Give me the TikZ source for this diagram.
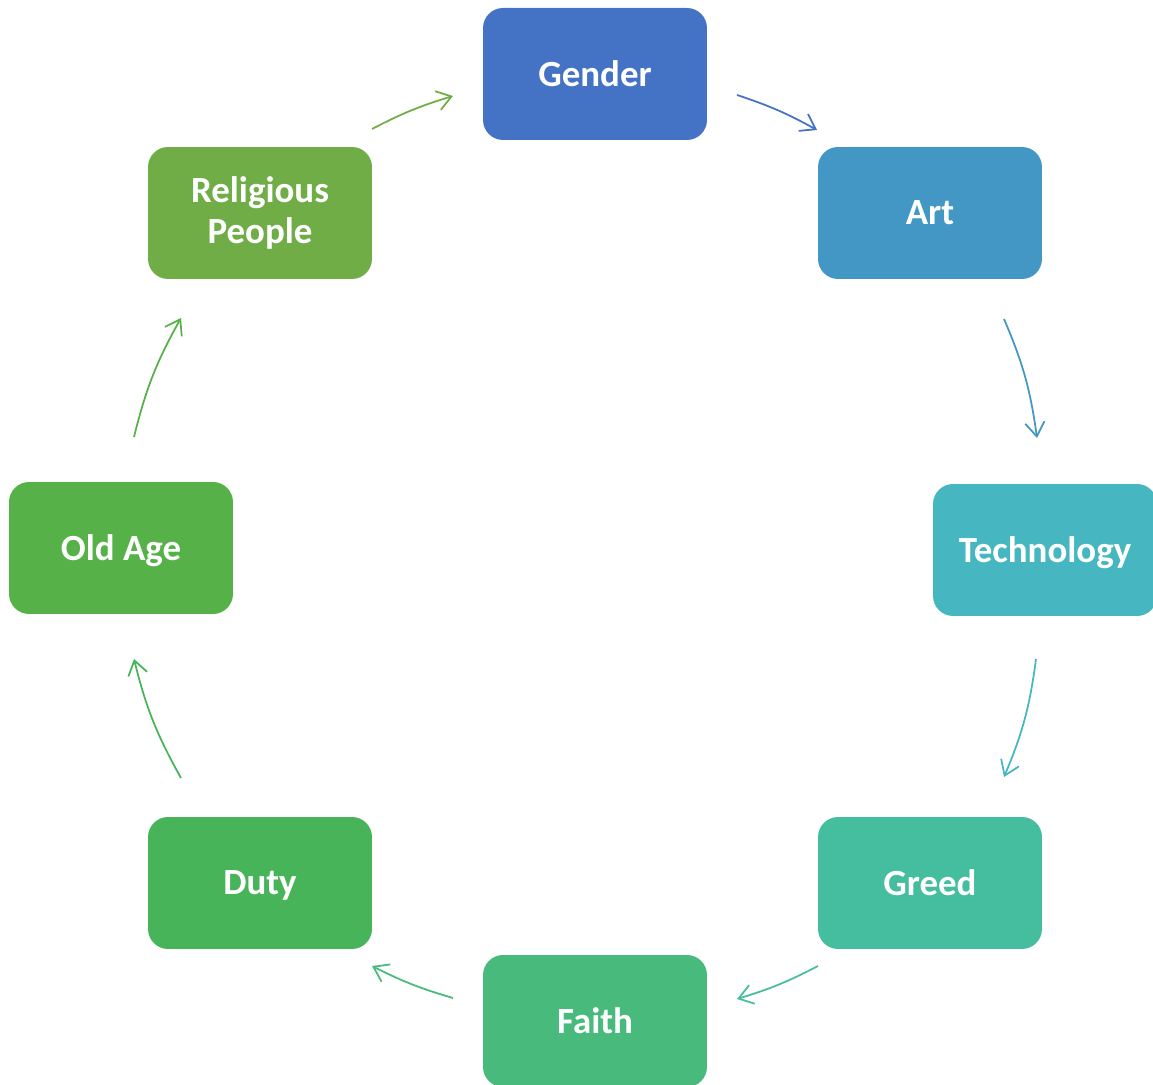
\documentclass[tikz,border=0pt]{standalone}
\usepackage{fontspec}
\setmainfont{Carlito}
\usepackage{tikz}
\usetikzlibrary{
  arrows.meta, % for the open arrow heads
}

\definecolor{gendercol}{HTML}{4472C4}
\definecolor{artcol}{HTML}{4397C4}
\definecolor{techcol}{HTML}{46B7C1}
\definecolor{greedcol}{HTML}{45BD9F}
\definecolor{faithcol}{HTML}{47BA7C}
\definecolor{dutycol}{HTML}{48B45A}
\definecolor{oldagecol}{HTML}{56B149}
\definecolor{religcol}{HTML}{70AD47}

\tikzset{
  cyclebox/.style={fill=#1, rounded corners=0.4cm, minimum width=4.48cm,
    minimum height=2.64cm, text=white, align=center,
    font=\fontsize{21}{23}\selectfont\bfseries},
  cyclearrow/.style={draw=#1, line width=1pt,
    -{Straight Barb[length=8pt, width=11pt]}},
}

\begin{document}
\begin{tikzpicture}[x=0.02cm, y=0.02cm]
              \useasboundingbox (0,0) rectangle (1153,1085);
              \node [cyclebox=gendercol] (gender) at (595,1011) {Gender};
              \node [cyclebox=artcol] (art) at (930,872) {Art};
              \node [cyclebox=techcol, text depth=0pt] (tech) at (1045,535) {Technology};
              \node [cyclebox=greedcol] (greed) at (930,202) {Greed};
              \node [cyclebox=faithcol] (faith) at (595,64) {Faith};
              \node [cyclebox=dutycol, text depth=0pt] (duty) at (260,202) {Duty};
              \node [cyclebox=oldagecol, text depth=0pt] (oldage) at (121,537) {Old Age};
              \node [cyclebox=religcol] (relig) at (260,872) {Religious\\People};
              % arcs of the cycle, clockwise
              \draw [cyclearrow=gendercol] ([shift={(142,-21)}]gender.center)
                to[bend left=5.3] ([shift={(-113,83)}]art.center);
              \draw [cyclearrow=artcol] ([shift={(74,-106)}]art.center)
                to[bend left=7.7] ([shift={(-8,112)}]tech.center);
              \draw [cyclearrow=techcol] ([shift={(-9,-109)}]tech.center)
                to[bend left=7.7] ([shift={(74,106)}]greed.center);
              \draw [cyclearrow=greedcol] ([shift={(-112,-83)}]greed.center)
                to[bend left=5.3] ([shift={(142,22)}]faith.center);
              \draw [cyclearrow=faithcol] ([shift={(-142,23)}]faith.center)
                to[bend left=5.3] ([shift={(112,-83)}]duty.center);
              \draw [cyclearrow=dutycol] ([shift={(-79,105)}]duty.center)
                to[bend left=7.7] ([shift={(13,-111)}]oldage.center);
              \draw [cyclearrow=oldagecol] ([shift={(13,111)}]oldage.center)
                to[bend left=7.7] ([shift={(-79,-105)}]relig.center);
              \draw [cyclearrow=religcol] ([shift={(112,84)}]relig.center)
                to[bend left=5.3] ([shift={(-142,-22)}]gender.center);
            \end{tikzpicture}
\end{document}
